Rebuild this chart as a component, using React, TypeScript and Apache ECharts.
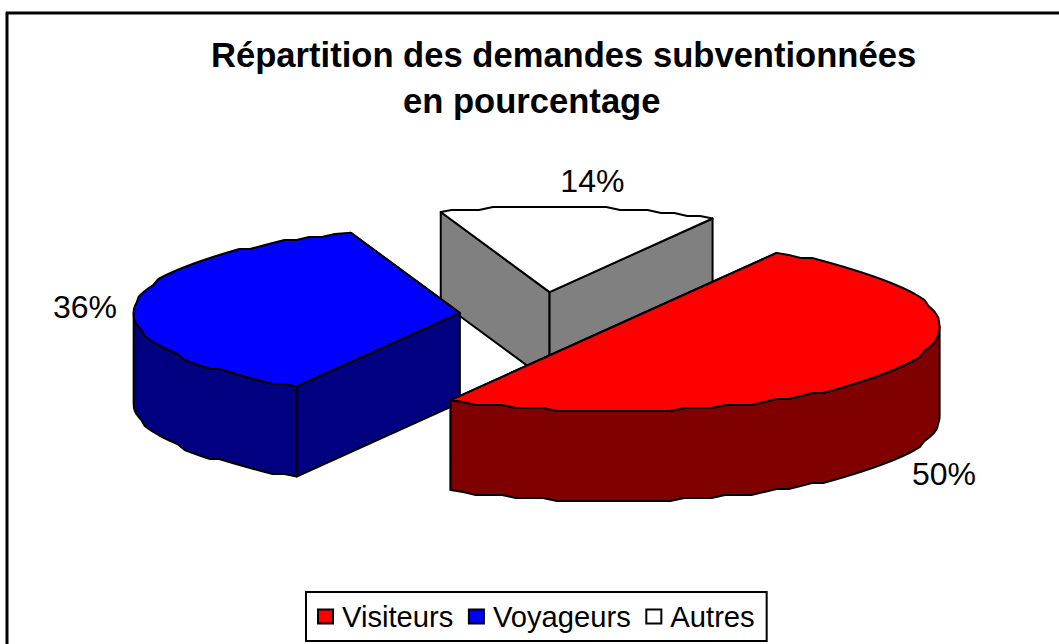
import React, { useEffect, useRef } from "react";
import * as echarts from "echarts";

const titleLines = ["Répartition des demandes subventionnées", "en pourcentage"];
const categories = ["Visiteurs", "Voyageurs", "Autres"];
const values = [50, 36.25, 13.75];

const FONT = '"Liberation Sans", Arial, sans-serif';
const topColors: Record<string, string> = { Visiteurs: "#ff0000", Voyageurs: "#0000ff", Autres: "#ffffff" };
const wallColors: Record<string, string> = { Visiteurs: "#800000", Voyageurs: "#000080", Autres: "#808080" };
const labelOffsets: Record<string, number[]> = { Visiteurs: [48, 15], Voyageurs: [-50, 2], Autres: [13, -26] };

const CX = 542, CY = 315, RX = 326, RY = 85, DEPTH = 90;
const EXPLODE_X = 82.7, EXPLODE_Y = 23;
const START_DEG = -60;
const STEP_DEG = 2.5, SNAP = 3;

const total = values.reduce((a, b) => a + b, 0);
const rad = (d: number) => (d * Math.PI) / 180;
const snap = (v: number) => Math.round(v / SNAP) * SNAP;

function sliceRange(i: number) {
  let a = START_DEG;
  for (let k = 0; k < i; k++) a += (values[k] / total) * 360;
  return [a, a + (values[i] / total) * 360];
}

function arc(cx: number, cy: number, a: number, b: number, dy: number) {
  const pts: number[][] = [];
  pts.push([cx + RX * Math.cos(rad(a)), cy + RY * Math.sin(rad(a)) + dy]);
  const first = Math.ceil((a + 0.5) / STEP_DEG) * STEP_DEG;
  for (let t = first; t < b - 0.5; t += STEP_DEG) {
    pts.push([cx + RX * Math.cos(rad(t)), snap(cy + RY * Math.sin(rad(t))) + dy]);
  }
  pts.push([cx + RX * Math.cos(rad(b)), cy + RY * Math.sin(rad(b)) + dy]);
  return pts;
}

function makeRender(name: string) {
  const i = categories.indexOf(name);
  return (_params: any, api: any) => {
    const value = api.value(0);
    const [a, b] = sliceRange(i);
    const mid = (a + b) / 2;
    const cx = CX + EXPLODE_X * Math.cos(rad(mid));
    const cy = CY + EXPLODE_Y * Math.sin(rad(mid));
    const line = { stroke: "#000", lineWidth: 2, lineJoin: "round" };
    const wallStyle = { ...line, fill: wallColors[name] };
    const children: any[] = [];
    const walls = [a, b].sort((p, q) => Math.sin(rad(p)) - Math.sin(rad(q)));
    for (const t of walls) {
      const px = cx + RX * Math.cos(rad(t));
      const py = cy + RY * Math.sin(rad(t));
      children.push({
        type: "polygon",
        shape: { points: [[cx, cy], [px, py], [px, py + DEPTH], [cx, cy + DEPTH]] },
        style: wallStyle,
      });
    }
    const from = Math.max(a, 0);
    const to = Math.min(b, 180);
    if (to > from) {
      const upper = arc(cx, cy, from, to, 0);
      const lower = arc(cx, cy, from, to, DEPTH).reverse();
      children.push({ type: "polygon", shape: { points: upper.concat(lower) }, style: wallStyle });
    }
    children.push({
      type: "polygon",
      shape: { points: [[cx, cy], ...arc(cx, cy, a, b, 0)] },
      style: { ...line, fill: topColors[name] },
    });
    const front = Math.sin(rad(mid)) > 0 && mid < 90 ? DEPTH : 0;
    children.push({
      type: "text",
      style: {
        text: `${Math.round(value)}%`,
        x: cx + RX * Math.cos(rad(mid)) + labelOffsets[name][0],
        y: cy + RY * Math.sin(rad(mid)) + front + labelOffsets[name][1],
        fill: "#000",
        fontSize: 32,
        fontFamily: FONT,
        align: "center",
        verticalAlign: "middle",
      },
    });
    return { type: "group", children };
  };
}

export default function App() {
  const ref = useRef<HTMLDivElement>(null);
  useEffect(() => {
    document.body.style.margin = "0";
    const chart = echarts.init(ref.current!, undefined, { renderer: "svg" });
    const paintOrder = [...categories].reverse();
    chart.setOption({
      animation: false,
      backgroundColor: "#ffffff",
      title: [
        { text: titleLines[0], left: 211, top: 37, padding: 0, textStyle: { fontFamily: FONT, fontSize: 34.6, fontWeight: "bold", color: "#000" } },
        { text: titleLines[1], left: 403, top: 83, padding: 0, textStyle: { fontFamily: FONT, fontSize: 34.6, fontWeight: "bold", color: "#000" } },
      ],
      legend: {
        data: categories,
        left: 306,
        top: 592,
        orient: "horizontal",
        icon: "rect",
        itemWidth: 15,
        itemHeight: 14,
        itemGap: 14.5,
        padding: [10, 12, 10, 11],
        borderColor: "#000",
        borderWidth: 2,
        selectedMode: false,
        itemStyle: { borderColor: "#000", borderWidth: 2 },
        textStyle: { fontFamily: FONT, fontSize: 29.2, color: "#000", padding: [0, 0, 0, 4] },
      },
      series: paintOrder.map((name) => ({
        type: "custom",
        name,
        coordinateSystem: "none",
        clip: false,
        silent: true,
        itemStyle: { color: topColors[name] },
        data: [[values[categories.indexOf(name)]]],
        renderItem: makeRender(name),
      })),
      graphic: [
        { type: "line", shape: { x1: 6, y1: 13, x2: 1059, y2: 13 }, style: { stroke: "#000", lineWidth: 3 } },
        { type: "line", shape: { x1: 7, y1: 12, x2: 7, y2: 644 }, style: { stroke: "#000", lineWidth: 3 } },
      ],
    });
    return () => chart.dispose();
  }, []);
  return <div ref={ref} style={{ position: "absolute", left: 0, top: 0, width: 1059, height: 644 }} />;
}
